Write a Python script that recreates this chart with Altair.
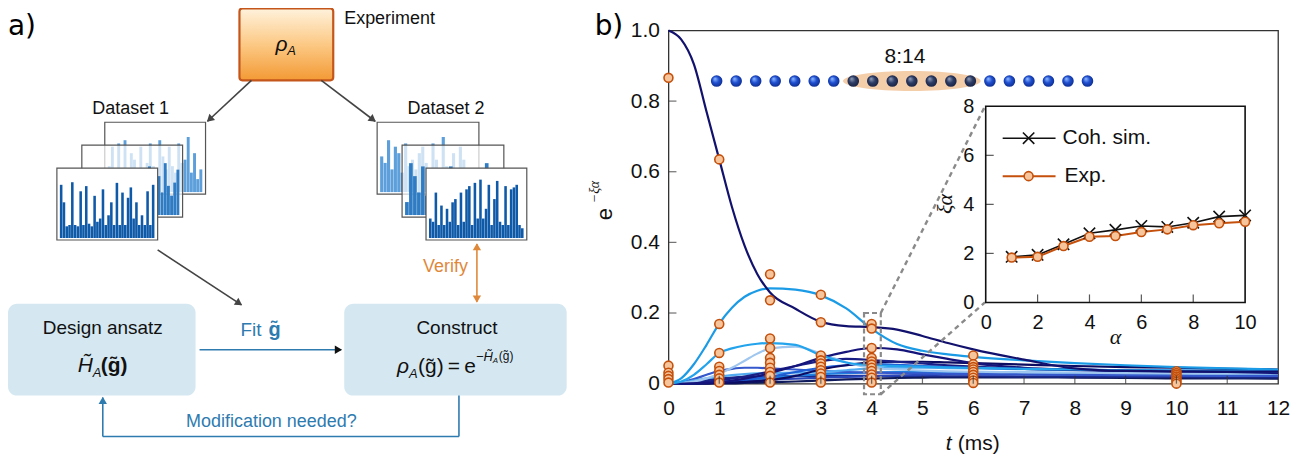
import altair as alt
import pandas as pd

# ====================== DATA : panel b (main plot) ======================
t_grid = [0, 0.25, 0.5, 0.75, 1, 1.25, 1.5, 1.75, 2, 2.5,
          3, 3.5, 4, 4.5, 5, 5.5, 6, 7, 8, 9, 10, 11, 12]

c_low_dark = [0, 0, 0, 0, .001, .001, .002, .003, .004, .006, .009, .012, .014, .016, .017, .018, .018, .018, .017, .016, .015, .015, .014]
c_low_navy = [0, .002, .006, .01, .014, .017, .019, .02, .021, .022, .022, .022, .022, .022, .022, .021, .021, .02, .02, .019, .019, .018, .018]
c_low_mid = [0, 0, .001, .002, .003, .005, .007, .009, .011, .014, .017, .019, .021, .023, .025, .026, .026, .026, .025, .024, .023, .022, .022]
c_low_blue = [0, 0, .001, .003, .005, .008, .011, .014, .017, .022, .027, .03, .032, .033, .033, .033, .032, .031, .03, .029, .028, .028, .027]
c_early_blue = [0, .004, .013, .025, .036, .042, .045, .045, .043, .04, .036, .033, .031, .03, .029, .028, .027, .026, .025, .024, .023, .022, .022]
c_light_flat = [0, .003, .009, .015, .02, .024, .027, .029, .03, .031, .033, .038, .043, .045, .045, .044, .043, .041, .039, .037, .036, .035, .034]
c_blue_late = [0, 0, .001, .002, .004, .007, .01, .015, .02, .033, .045, .052, .055, .053, .05, .048, .045, .042, .04, .038, .037, .036, .035]
c_navy_late = [0, 0, 0, .001, .002, .003, .005, .007, .01, .022, .04, .052, .06, .062, .062, .06, .058, .054, .05, .047, .045, .042, .04]
c_navy_35 = [0, 0, .002, .005, .01, .014, .02, .027, .035, .05, .064, .07, .067, .062, .057, .052, .048, .042, .038, .035, .033, .031, .03]
c_pale = [0, .002, .006, .015, .028, .045, .065, .085, .10, .105, .085, .06, .045, .04, .037, .035, .034, .032, .031, .030, .029, .028, .028]
c_navy_4 = [0, 0, .001, .002, .004, .008, .014, .021, .03, .05, .073, .09, .101, .097, .083, .07, .058, .045, .04, .037, .035, .033, .03]
c_cyan_small = [0, .006, .025, .055, .087, .10, .108, .113, .115, .11, .08, .06, .052, .05, .048, .046, .045, .042, .04, .038, .037, .036, .035]
c_cyan_big = [0, .015, .055, .11, .17, .215, .246, .263, .27, .266, .25, .213, .155, .112, .093, .083, .076, .066, .058, .052, .047, .043, .040]
c_navy_top = [1.0, .975, .905, .77, .635, .50, .39, .31, .258, .212, .175, .163, .160, .153, .135, .115, .097, .068, .043, .036, .035, .034, .034]

curve_ids = ["c01", "c02", "c03", "c04", "c05", "c06", "c07",
             "c08", "c09", "c10", "c11", "c12", "c13", "c14"]
curve_values = [c_low_dark, c_low_navy, c_low_mid, c_low_blue, c_early_blue,
                c_light_flat, c_blue_late, c_navy_late, c_navy_35, c_pale,
                c_navy_4, c_cyan_small, c_cyan_big, c_navy_top]
curve_colors = ["#0f1a5c", "#1b2a8a", "#2a46b8", "#1f7fe0", "#3559cc",
                "#52aaf0", "#1f5fd6", "#0c0c62", "#1a1f86", "#9fc6ee",
                "#14147a", "#22a3ec", "#1b9be6", "#12126e"]

exp_times = [0, 1, 2, 3, 4, 6, 10]
exp_values = [
    [0.866, 0.051, 0.031, 0.022, 0.013, 0.003],
    [0.635, 0.169, 0.087, 0.048, 0.036, 0.025, 0.015, 0.003],
    [0.31, 0.236, 0.128, 0.101, 0.073, 0.059, 0.045, 0.033, 0.022, 0.003],
    [0.252, 0.174, 0.080, 0.066, 0.057, 0.048, 0.038, 0.029, 0.019, 0.003],
    [0.169, 0.156, 0.101, 0.073, 0.063, 0.054, 0.045, 0.036, 0.026, 0.017, 0.003],
    [0.080, 0.055, 0.047, 0.040, 0.033, 0.025, 0.017, 0.009, 0.002],
    [0.035, 0.030, 0.025, 0.020, 0.015, 0.010, 0.005, 0.0],
]

x_ticks_main = list(range(13))
y_ticks_main = [0, 0.2, 0.4, 0.6, 0.8, 1.0]

# ion chain
sites = list(range(1, 21))
window = (8, 14)
window_label = "8:14"

# zoom window around t = 4 and the connectors to the inset corners
zoom_box = {"t0": [3.85], "t1": [4.18], "v0": [-0.03], "v1": [0.20]}
zoom_links = {"t0": [4.18, 4.18], "v0": [0.20, -0.03], "t1": [6.23, 6.23], "v1": [0.785, 0.23]}

# inset
alpha = list(range(1, 11))
coh_sim = [1.86, 1.94, 2.37, 2.82, 2.96, 3.12, 3.08, 3.25, 3.50, 3.55]
exp_xi = [1.83, 1.86, 2.30, 2.68, 2.71, 2.87, 2.98, 3.15, 3.23, 3.29]
x_ticks_inset = [0, 2, 4, 6, 8, 10]
y_ticks_inset = [0, 2, 4, 6, 8]

# ====================== DATA : panel a (diagram) ======================
ds1_back = [.4, .7, .3, .75, .35, .8, .3, .6, .5, .35, .7, .3, .45, .75, .4, .3, .8, .55, .35, .7, .4, .3, .75, .45, .5, .85, .3, .6, .2, .35]
ds1_mid = [.3, .6, .25, .5, .7, .2, .45, .3, .65, .35, .5, .25, .4, .7, .3, .55, .35, .6, .3, .45, .75, .4, .3, .6, .35, .8, .45, .3, .5, .7]
ds1_front = [.82, .55, .18, .2, .86, .2, .18, .72, .2, .8, .22, .18, .65, .25, .3, .75, .2, .35, .55, .2, .85, .2, .7, .2, .62, .78, .3, .55, .2, .35, .2, .72, .2, .82]
ds2_back = [.55, .45, .8, .35, .7, .6, .3, .75, .4, .5, .35, .6, .7, .45, .3, .75, .5, .35, .85, .4, .3, .6, .25, .7, .5, .35, .2, .3]
ds2_mid = [.2, .8, .6, .35, .75, .3, .5, .4, .6, .35, .3, .75, .4, .55, .25, .65, .3, .7, .45, .3, .8, .35, .5, .3]
ds2_front = [.3, .25, .7, .2, .5, .2, .45, .25, .55, .6, .2, .7, .25, .75, .8, .2, .85, .3, .9, .3, .45, .82, .2, .6, .88, .25, .2, .8, .2, .75, .78, .82, .2, .15]
dataset_bars = [ds1_back, ds1_mid, ds1_front, ds2_back, ds2_mid, ds2_front]

# ====================== LAYOUT (page pixels) ======================
LEFT, TOP, PLOT_W, PLOT_H = 670, 30, 611, 354
INS_X0, INS_X1, INS_Y0, INS_Y1 = 988, 1248, 302.6, 106
ION_X0, ION_X1, ION_Y = 718.3, 1090, 80.7

SANS, SERIF, DJ = "Liberation Sans", "Liberation Serif", "DejaVu Sans"
BLUE_T, ORANGE_T = "#2e7bb0", "#e0883a"

panel_layout = [  # x0, y0, x1, y1, bar colour, fill opacity
    (105, 122, 206, 194, "#5d9fda", 0.7),
    (82, 145, 183, 217, "#2f7cc4", 0.7),
    (57, 168, 158, 240, "#0f5aa8", 1.0),
    (378, 122, 480, 194, "#5d9fda", 0.7),
    (403, 145, 505, 217, "#2f7cc4", 0.7),
    (427, 168, 528, 240, "#0f5aa8", 1.0),
]
boxes = {"x0": [8, 345], "x1": [196, 568], "y0": [304, 304], "y1": [396, 396]}
exp_box = {"x0": [240], "x1": [334], "y0": [8], "y1": [80]}

arrows = [  # x1, y1, x2, y2, line colour, head colour ('' = no head)
    (252, 80, 208, 121, "#444444", "#444444"),
    (322, 80, 376, 121, "#444444", "#444444"),
    (158, 250, 242, 305, "#444444", "#444444"),
    (200, 350, 342, 350, BLUE_T, "#111111"),
    (478, 273, 478, 244, ORANGE_T, ORANGE_T),
    (478, 273, 478, 302, ORANGE_T, ORANGE_T),
    (460, 396, 460, 437, BLUE_T, ""),
    (460, 437, 103, 437, BLUE_T, ""),
    (103, 437, 103, 398, BLUE_T, BLUE_T),
]

texts = [  # text, x, y, size, colour, font, style, weight, align, angle
    ("a)", 8, 27, 28, "#000", DJ, "normal", "normal", "left", 0),
    ("b)", 596, 27, 28, "#000", DJ, "normal", "normal", "left", 0),
    ("Experiment", 345, 19, 18, "#111", SANS, "normal", "normal", "left", 0),
    ("ρ", 276, 45, 21, "#111", SANS, "italic", "normal", "left", 0),
    ("A", 288, 51, 13, "#111", SANS, "italic", "normal", "left", 0),
    ("Dataset 1", 131, 109, 18, "#111", SANS, "normal", "normal", "center", 0),
    ("Dataset 2", 447, 109, 18, "#111", SANS, "normal", "normal", "center", 0),
    ("Verify", 469, 267, 18, ORANGE_T, SANS, "normal", "normal", "right", 0),
    ("Design ansatz", 103, 328, 19, "#111", SANS, "normal", "normal", "center", 0),
    ("Construct", 458, 328, 19, "#111", SANS, "normal", "normal", "center", 0),
    ("H\u0303", 78, 366, 21, "#111", SANS, "italic", "normal", "left", 0),
    ("A", 93, 373, 13, "#111", SANS, "italic", "normal", "left", 0),
    ("(g\u0303)", 101, 366, 21, "#111", SANS, "normal", "bold", "left", 0),
    ("Fit", 241, 330, 19, BLUE_T, SANS, "normal", "normal", "left", 0),
    ("g\u0303", 269, 330, 20, BLUE_T, SANS, "normal", "bold", "left", 0),
    ("ρ", 398, 367, 21, "#111", SANS, "italic", "normal", "left", 0),
    ("A", 410, 374, 13, "#111", SANS, "italic", "normal", "left", 0),
    ("(g\u0303)\u2009=\u2009e", 419, 367, 21, "#111", SANS, "normal", "normal", "left", 0),
    ("\u2212H\u0303", 477, 357, 13, "#111", SANS, "italic", "normal", "left", 0),
    ("A", 494, 361, 8, "#111", SANS, "italic", "normal", "left", 0),
    ("(g\u0303)", 500, 356, 12, "#111", SANS, "normal", "normal", "left", 0),
    ("Modification needed?", 272, 422, 18, BLUE_T, SANS, "normal", "normal", "center", 0),
    (window_label, 907, 57, 21, "#111", SANS, "normal", "normal", "center", 0),
    ("Coh. sim.", 1065, 138, 21, "#111", SANS, "normal", "normal", "left", 0),
    ("Exp.", 1067, 176, 21, "#111", SANS, "normal", "normal", "left", 0),
    ("α", 1118, 337, 22, "#111", SERIF, "italic", "normal", "center", 0),
    ("ξα", 947, 204, 22, "#111", SERIF, "italic", "normal", "center", 270),
    ("e", 606, 214, 22, "#111", SANS, "normal", "normal", "center", 270),
    ("\u2212ξα", 596, 192, 14, "#111", SERIF, "italic", "normal", "center", 270),
    ("t", 948, 445, 21, "#111", SANS, "italic", "normal", "left", 0),
    ("(ms)", 960, 445, 21, "#111", SANS, "normal", "normal", "left", 0),
]

legend_rows = {"x0": [1005, 1005], "x1": [1058, 1058], "y": [138, 176], "xm": [1031, 1031]}

# ====================== SCALES / HELPERS ======================
SC_T = alt.Scale(domain=[0, 12], nice=False, zero=False)
SC_V = alt.Scale(domain=[0, 1], nice=False, zero=False)
AX_T = alt.Axis(values=x_ticks_main, format="d", ticks=False, tickSize=0, domain=False,
                grid=False, labelPadding=14, labelFontSize=21, title=None,
                labelFlush=False, labelOverlap=False)
AX_V = alt.Axis(values=y_ticks_main,
                labelExpr="datum.value == 0 ? '0' : format(datum.value, '.1f')",
                ticks=False, tickSize=0, domain=False, grid=False, labelPadding=9,
                labelFontSize=21, title=None, labelOverlap=False)


def MX(f):
    return alt.X(f, type="quantitative", scale=SC_T, axis=AX_T)


def MY(f):
    return alt.Y(f, type="quantitative", scale=SC_V, axis=AX_V)


SC_A = alt.Scale(domain=[0, 10], range=[INS_X0 - LEFT, INS_X1 - LEFT], nice=False, zero=False)
SC_XI = alt.Scale(domain=[0, 8], range=[INS_Y0 - TOP, INS_Y1 - TOP], nice=False, zero=False)
AX_A = alt.Axis(orient="bottom", offset=-(PLOT_H - (INS_Y0 - TOP)), values=x_ticks_inset,
                ticks=False, tickSize=0, domain=False, grid=False, labelPadding=10,
                labelFontSize=20, title=None, labelFlush=False, labelOverlap=False)
AX_XI = alt.Axis(orient="left", offset=-(INS_X0 - LEFT), values=y_ticks_inset,
                 ticks=False, tickSize=0, domain=False, grid=False, labelPadding=12,
                 labelFontSize=20, title=None, labelOverlap=False)


def IX(f):
    return alt.X(f, type="quantitative", scale=SC_A, axis=AX_A)


def IY(f):
    return alt.Y(f, type="quantitative", scale=SC_XI, axis=AX_XI)


SC_PX = alt.Scale(domain=[LEFT, LEFT + PLOT_W], range=[0, PLOT_W], nice=False, zero=False)
SC_PY = alt.Scale(domain=[TOP, TOP + PLOT_H], range=[0, PLOT_H], nice=False, zero=False)


def PX(f):
    return alt.X(f, type="quantitative", scale=SC_PX, axis=None)


def PY(f):
    return alt.Y(f, type="quantitative", scale=SC_PY, axis=None)


# ====================== PANEL b : main ======================
curve_rows = []
for cid, vals in zip(curve_ids, curve_values):
    for t, v in zip(t_grid, vals):
        curve_rows.append({"cid": cid, "t": t, "v": v})
curves_df = pd.DataFrame(curve_rows)

exp_rows = []
for t, vals in zip(exp_times, exp_values):
    for v in vals:
        exp_rows.append({"t": t, "v": v})
exp_df = pd.DataFrame(exp_rows)

lines = alt.Chart(curves_df).mark_line(interpolate="monotone", strokeWidth=2.2).encode(
    x=MX("t"), y=MY("v"),
    color=alt.Color("cid:N", scale=alt.Scale(domain=curve_ids, range=curve_colors), legend=None),
    order=alt.Order("t:Q"),
)

zbox = alt.Chart(pd.DataFrame(zoom_box)).mark_rect(
    fill="transparent", stroke="#8a8a8a", strokeWidth=2.2, strokeDash=[5, 3]
).encode(x=MX("t0"), x2="t1", y=MY("v0"), y2="v1")

zlinks = alt.Chart(pd.DataFrame(zoom_links)).mark_rule(
    stroke="#8a8a8a", strokeWidth=2.4, strokeDash=[5, 4]
).encode(x=MX("t0"), y=MY("v0"), x2="t1", y2="v1")

exp_pts = alt.Chart(exp_df).mark_circle(
    size=80, color="#f6c59b", stroke="#c4500c", strokeWidth=1.6, opacity=1
).encode(x=MX("t"), y=MY("v"))

xt_df = pd.DataFrame({"v": x_ticks_main[1:-1], "y0": 0.0})
yt_df = pd.DataFrame({"v": y_ticks_main[1:-1], "x0": 0.0})
xticks = alt.Chart(xt_df).mark_tick(orient="vertical", size=8, thickness=1.2, yOffset=-4,
                                    color="#333").encode(x=MX("v"), y=MY("y0"))
yticks = alt.Chart(yt_df).mark_tick(orient="horizontal", size=8, thickness=1.2, xOffset=4,
                                    color="#333").encode(y=MY("v"), x=MX("x0"))

main = alt.layer(lines, zbox, zlinks, exp_pts, xticks, yticks)

# ====================== ions ======================
SC_SITE = alt.Scale(domain=[1, 20], range=[ION_X0 - LEFT, ION_X1 - LEFT], nice=False, zero=False)
ion_df = pd.DataFrame({"site": sites})
ion_df["inwin"] = [(s >= window[0]) and (s <= window[1]) for s in sites]
ell_df = pd.DataFrame({"site": [(window[0] + window[1]) / 2]})

ELLIPSE = "M-1,0A1,0.145,0,1,1,1,0A1,0.145,0,1,1,-1,0Z"
ell = alt.Chart(ell_df).mark_point(shape=ELLIPSE, filled=True, color="#f2c49a", opacity=0.85,
                                   size=138 * 138).encode(
    x=alt.X("site:Q", scale=SC_SITE, axis=None), y=alt.value(ION_Y - TOP))

grad_light = {"gradient": "radial", "x1": 0.35, "y1": 0.3, "r1": 0.02, "x2": 0.5, "y2": 0.5, "r2": 0.6,
              "stops": [{"offset": 0, "color": "#8db8ff"}, {"offset": 0.45, "color": "#1f4fd0"},
                        {"offset": 1, "color": "#0a2580"}]}
grad_dark = {"gradient": "radial", "x1": 0.35, "y1": 0.3, "r1": 0.02, "x2": 0.5, "y2": 0.5, "r2": 0.6,
             "stops": [{"offset": 0, "color": "#8f9cb8"}, {"offset": 0.45, "color": "#2e3d66"},
                       {"offset": 1, "color": "#121c3c"}]}
ions_light = alt.Chart(ion_df).transform_filter("!datum.inwin").mark_circle(
    size=135, fill=grad_light, opacity=1).encode(
    x=alt.X("site:Q", scale=SC_SITE, axis=None), y=alt.value(ION_Y - TOP))
ions_dark = alt.Chart(ion_df).transform_filter("datum.inwin").mark_circle(
    size=135, fill=grad_dark, opacity=1).encode(
    x=alt.X("site:Q", scale=SC_SITE, axis=None), y=alt.value(ION_Y - TOP))
ions = alt.layer(ell, ions_light, ions_dark)

# ====================== inset ======================
frame = alt.Chart(pd.DataFrame({"a0": [0], "a1": [10], "b0": [0], "b1": [8]})).mark_rect(
    fill="white", stroke="#111", strokeWidth=1.6).encode(x=IX("a0"), x2="a1", y=IY("b0"), y2="b1")
ins_df = pd.DataFrame({"alpha": alpha, "coh": coh_sim, "exp": exp_xi})
coh_line = alt.Chart(ins_df).mark_line(color="#111", strokeWidth=1.6).encode(x=IX("alpha"), y=IY("coh"))
XSHAPE = "M-1,-1L1,1M-1,1L1,-1"
coh_pts = alt.Chart(ins_df).mark_point(shape=XSHAPE, filled=False, color="#111", strokeWidth=1.6,
                                       size=130, opacity=1).encode(x=IX("alpha"), y=IY("coh"))
exp_line = alt.Chart(ins_df).mark_line(color="#c4500c", strokeWidth=2).encode(x=IX("alpha"), y=IY("exp"))
exp_ipts = alt.Chart(ins_df).mark_circle(size=80, color="#f6c59b", stroke="#c4500c", strokeWidth=1.6,
                                         opacity=1).encode(x=IX("alpha"), y=IY("exp"))
ixt = pd.DataFrame({"a": x_ticks_inset[1:-1], "b": 0.0})
iyt = pd.DataFrame({"b": y_ticks_inset[1:-1], "a": 0.0})
ins_xt = alt.Chart(ixt).mark_tick(orient="vertical", size=8, thickness=1.2, yOffset=-4,
                                  color="#111").encode(x=IX("a"), y=IY("b"))
ins_yt = alt.Chart(iyt).mark_tick(orient="horizontal", size=8, thickness=1.2, xOffset=4,
                                  color="#111").encode(x=IX("a"), y=IY("b"))
inset = alt.layer(frame, coh_line, exp_line, coh_pts, exp_ipts, ins_xt, ins_yt)

# ====================== page layer (panel a + annotations) ======================
page_layers = []

grad_exp = {"gradient": "linear", "x1": 0, "y1": 0, "x2": 0, "y2": 1,
            "stops": [{"offset": 0, "color": "#fff2dc"}, {"offset": 0.5, "color": "#fcc985"},
                      {"offset": 1, "color": "#f39a35"}]}
page_layers.append(alt.Chart(pd.DataFrame(exp_box)).mark_rect(
    fill=grad_exp, stroke="#c4561b", strokeWidth=2.2, cornerRadius=3).encode(
    x=PX("x0"), x2="x1", y=PY("y0"), y2="y1"))

page_layers.append(alt.Chart(pd.DataFrame(boxes)).mark_rect(
    fill="#d5e8f1", cornerRadius=9).encode(x=PX("x0"), x2="x1", y=PY("y0"), y2="y1"))

for (x0, y0, x1, y1, bcol, fop), hvals in zip(panel_layout, dataset_bars):
    pdf = pd.DataFrame({"x0": [x0], "y0": [y0], "x1": [x1], "y1": [y1]})
    page_layers.append(alt.Chart(pdf).mark_rect(
        fill="white", fillOpacity=fop, stroke="#555", strokeWidth=1.2).encode(
        x=PX("x0"), x2="x1", y=PY("y0"), y2="y1"))
    bdf = pd.DataFrame({"i": list(range(len(hvals))), "h": hvals})
    bdf["n"] = len(hvals)
    bdf["px0"], bdf["py0"], bdf["px1"], bdf["py1"] = x0, y0, x1, y1
    page_layers.append(alt.Chart(bdf).transform_calculate(
        bw="(datum.px1 - datum.px0 - 6) / datum.n",
        bx="datum.px0 + 3 + datum.i * datum.bw",
        bx2="datum.bx + datum.bw * 0.92",
        by="datum.py1 - 2 - datum.h * (datum.py1 - datum.py0 - 7)",
        by2="datum.py1 - 2",
    ).mark_rect(color=bcol).encode(x=PX("bx"), x2="bx2", y=PY("by"), y2="by2"))

arr_df = pd.DataFrame(arrows, columns=["x1", "y1", "x2", "y2", "col", "hcol"])
page_layers.append(alt.Chart(arr_df).mark_rule(strokeWidth=1.6).encode(
    x=PX("x1"), y=PY("y1"), x2="x2", y2="y2", color=alt.Color("col:N", scale=None)))
page_layers.append(alt.Chart(arr_df).transform_filter("datum.hcol != ''").transform_calculate(
    L="sqrt(pow(datum.x2 - datum.x1, 2) + pow(datum.y2 - datum.y1, 2))",
    hx="datum.x2 - 4 * (datum.x2 - datum.x1) / datum.L",
    hy="datum.y2 - 4 * (datum.y2 - datum.y1) / datum.L",
    ang="(atan2(datum.x2 - datum.x1, datum.y1 - datum.y2) * 180 / PI + 360) % 360",
).mark_point(shape="triangle", filled=True, size=70, opacity=1).encode(
    x=PX("hx"), y=PY("hy"), angle=alt.Angle("ang:Q", scale=None),
    color=alt.Color("hcol:N", scale=None)))

leg_df = pd.DataFrame(legend_rows)
page_layers.append(alt.Chart(leg_df.iloc[[0]]).mark_rule(color="#111", strokeWidth=1.6).encode(
    x=PX("x0"), x2="x1", y=PY("y")))
page_layers.append(alt.Chart(leg_df.iloc[[1]]).mark_rule(color="#c4500c", strokeWidth=2).encode(
    x=PX("x0"), x2="x1", y=PY("y")))
page_layers.append(alt.Chart(leg_df.iloc[[0]]).mark_point(
    shape=XSHAPE, filled=False, color="#111", strokeWidth=1.6, size=130, opacity=1).encode(
    x=PX("xm"), y=PY("y")))
page_layers.append(alt.Chart(leg_df.iloc[[1]]).mark_circle(
    size=80, color="#f6c59b", stroke="#c4500c", strokeWidth=1.6, opacity=1).encode(
    x=PX("xm"), y=PY("y")))

txt_df = pd.DataFrame(texts, columns=["text", "x", "y", "size", "color", "font", "style",
                                      "weight", "align", "angle"])
for (font, style, weight, align), g in txt_df.groupby(["font", "style", "weight", "align"]):
    page_layers.append(alt.Chart(g.reset_index(drop=True)).mark_text(
        font=font, fontStyle=style, fontWeight=weight, align=align, baseline="middle").encode(
        x=PX("x"), y=PY("y"), text="text:N",
        color=alt.Color("color:N", scale=None), size=alt.Size("size:Q", scale=None),
        angle=alt.Angle("angle:Q", scale=None)))

page = alt.layer(*page_layers)

# ====================== assemble ======================
chart = alt.layer(main, ions, inset, page).resolve_scale(
    x="independent", y="independent"
).properties(
    width=PLOT_W, height=PLOT_H,
    autosize=alt.AutoSizeParams(type="none"),
    padding={"left": LEFT - 8, "top": TOP - 8, "right": 14, "bottom": 70},
).configure_axis(
    labelFont=SANS, labelColor="#111"
).configure_view(
    stroke="#333", strokeWidth=1.3
)

chart.save("out.html", embed_options={"renderer": "svg", "actions": False})
